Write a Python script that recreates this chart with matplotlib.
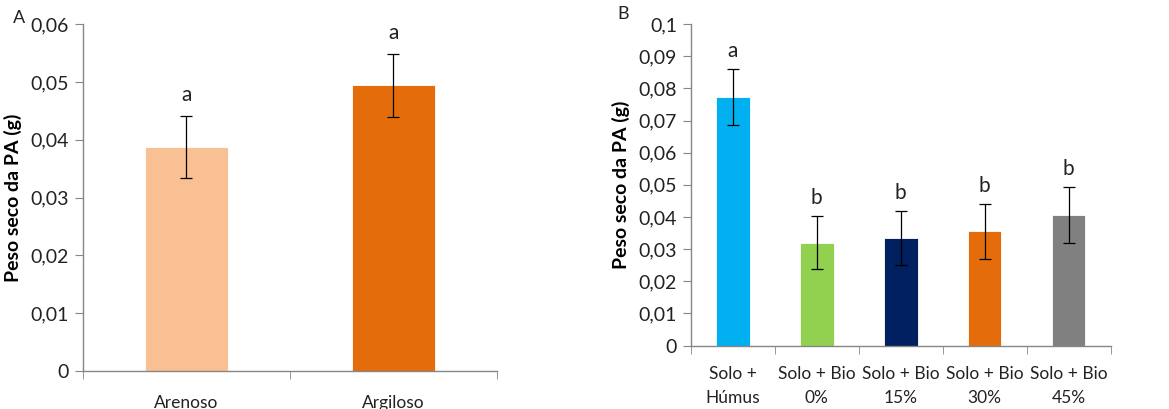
import numpy as np
import matplotlib.pyplot as plt
from matplotlib.ticker import FixedLocator, FuncFormatter

plt.rcParams['font.family'] = ['Lato', 'DejaVu Sans']

# Panel A data
solos = ['Arenoso', 'Argiloso']
peso_a = [0.0387, 0.0494]
erro_a = [0.0054, 0.0054]
letras_a = ['a', 'a']
cores_a = ['#F9C093', '#E46C0A']

# Panel B data
tratamentos = ['Solo +\nHúmus', 'Solo + Bio\n0%', 'Solo + Bio\n15%', 'Solo + Bio\n30%', 'Solo + Bio\n45%']
peso_b = [0.0773, 0.0320, 0.0335, 0.0355, 0.0406]
erro_b = [0.0086, 0.0083, 0.0085, 0.0086, 0.0087]
letras_b = ['a', 'b', 'b', 'b', 'b']
cores_b = ['#00B0F0', '#92D050', '#002060', '#E46C0A', '#808080']

spine_col = '#868686'
txt_col = '#222222'

fig = plt.figure(figsize=(11.69, 4.09), dpi=100)
ax_a = fig.add_axes([0.071, 0.093, 0.354, 0.848])
ax_b = fig.add_axes([0.591, 0.155, 0.359, 0.786])


def comma(v, pos):
    if v == 0:
        return '0'
    s = ('%.2f' % v).rstrip('0')
    return s.replace('.', ',')


def draw_panel(ax, cats, vals, errs, letters, colors, ymax, step, letter_off):
    x = np.arange(len(cats))
    ax.bar(x, vals, width=0.4, color=colors, edgecolor='white', linewidth=0.6, zorder=2)
    ax.errorbar(x, vals, yerr=errs, fmt='none', ecolor='black', elinewidth=0.9,
                capsize=4, capthick=0.9, zorder=3)
    for xi, v, e, l in zip(x, vals, errs, letters):
        ax.annotate(l, (xi, v + e), xytext=(0, letter_off), textcoords='offset points',
                    ha='center', va='center', fontsize=15, color=txt_col)
    ax.set_xlim(-0.5, len(cats) - 0.5)
    ax.set_ylim(0, ymax)
    ax.yaxis.set_major_locator(FixedLocator(np.arange(0, ymax + step / 2, step)))
    ax.yaxis.set_major_formatter(FuncFormatter(comma))
    ax.set_xticks(x)
    ax.set_xticklabels(cats)
    ax.set_xticks(np.arange(-0.5, len(cats)), minor=True)
    ax.tick_params(axis='x', which='major', length=0, labelsize=12.5, pad=17, colors=txt_col)
    ax.tick_params(axis='x', which='minor', length=6, direction='out', color=spine_col)
    ax.tick_params(axis='y', length=6, direction='out', color=spine_col, labelsize=14,
                   labelcolor=txt_col, pad=4)
    for s in ['top', 'right']:
        ax.spines[s].set_visible(False)
    for s in ['left', 'bottom']:
        ax.spines[s].set_color(spine_col)
        ax.spines[s].set_linewidth(1.0)
    ax.set_ylabel('Peso seco da PA (g)', fontsize=14, fontweight='bold', color='black', labelpad=6)


draw_panel(ax_a, solos, peso_a, erro_a, letras_a, cores_a, 0.06, 0.01, 15)
draw_panel(ax_b, tratamentos, peso_b, erro_b, letras_b, cores_b, 0.1, 0.01, 13)
ax_b.tick_params(axis='x', which='major', pad=15)
for lbl in ax_b.get_xticklabels():
    lbl.set_linespacing(1.6)

fig.text(19 / 1169, 1 - 18 / 409, 'A', fontsize=13, color=txt_col, ha='center', va='center')
fig.text(623 / 1169, 1 - 14 / 409, 'B', fontsize=13, color=txt_col, ha='center', va='center')

fig.savefig('out.png', dpi=100, facecolor='white')
